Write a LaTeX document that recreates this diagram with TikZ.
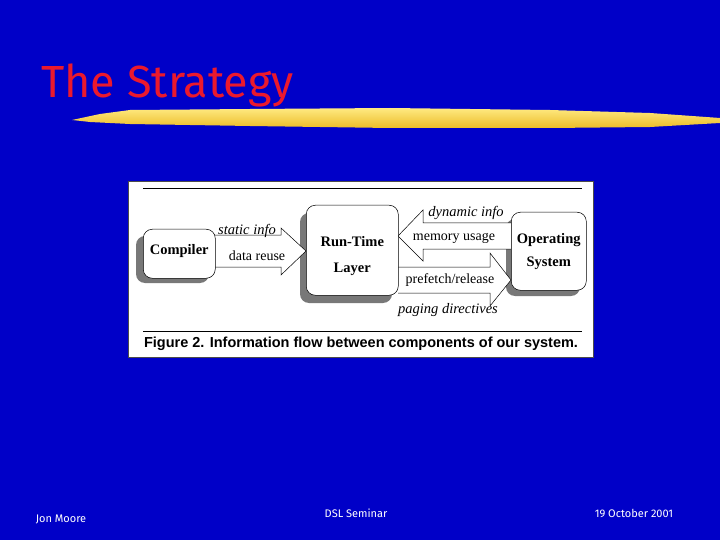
\documentclass[tikz,border=0pt]{standalone}
\usepackage{fontspec}
\setmainfont{Liberation Serif}
\newfontfamily\capfont{Liberation Sans}
\newfontfamily\slidefont{Fira Sans}
\definecolor{slideblue}{RGB}{0,0,200}
\definecolor{titlered}{RGB}{235,25,45}
\definecolor{shadowgray}{RGB}{120,120,120}
\definecolor{goldA}{RGB}{255,234,130}
\definecolor{goldB}{RGB}{236,188,40}
\tikzset{
  shadowbox/.style={fill=shadowgray, rounded corners=9pt},
  mainbox/.style={draw=black, line width=0.5pt, fill=white, rounded corners=9pt, inner sep=0pt, font=\bfseries\fontsize{14.5}{16}\selectfont, align=center},
  blockarrow/.style={draw=black, line width=0.5pt, fill=white},
  lbl/.style={font=\fontsize{14}{16}\selectfont, inner sep=0pt},
  ilbl/.style={font=\itshape\fontsize{14.5}{16}\selectfont, inner sep=0pt},
  foot/.style={text=white, font=\slidefont\fontsize{11}{13}\selectfont, inner sep=0pt}
}
\begin{document}
\begin{tikzpicture}[x=1pt,y=-1pt]
\fill[slideblue] (0,0) rectangle (720,540);
\useasboundingbox (0,0) rectangle (720,540);
% title
\node[text=titlered, font=\slidefont\fontsize{45}{50}\selectfont, anchor=base west, inner sep=0pt] (title) at (41,98) {The Strategy};
% brush stroke
\shade[top color=goldA, bottom color=goldB] (72,120) -- (100,114) -- (130,110) -- (250,109) -- (390,108) -- (550,110) -- (650,113) -- (720,118)
  -- (720,123) -- (650,127) -- (550,128) -- (390,128) -- (250,126) -- (130,124) -- (90,122) -- cycle;
% figure panel
\node[draw=black!70, fill=white, minimum width=465pt, minimum height=176pt, inner sep=0pt, anchor=north west] (panel) at (128,181) {};
\draw[line width=0.8pt] (143,188) -- (582,188);
\draw[line width=0.8pt] (143,331) -- (582,331);
\node[font=\capfont\fontsize{14.5}{16}\selectfont, inner sep=0pt] (cap) at (361,344) {\textbf{Figure 2.} \textbf{Information flow between components of our system.}};
% shadows
\fill[shadowbox] (136,236) rectangle (209,283);
\fill[shadowbox] (300,213) rectangle (392,303);
\fill[shadowbox] (506,219) rectangle (580,296);
% block arrows
\draw[blockarrow] (215,235) -- (281,235) -- (281,228) -- (306,251) -- (281,275) -- (281,267) -- (215,267);
\draw[blockarrow] (511,223) -- (423,223) -- (423,210) -- (398,236) -- (423,261) -- (423,249) -- (511,249);
\draw[blockarrow] (398,267) -- (490,267) -- (490,253) -- (511,280) -- (490,306) -- (490,293) -- (398,293);
% boxes
\node[mainbox, minimum width=72pt, minimum height=49pt, anchor=north west] (comp) at (143,229) {\raisebox{8pt}{Compiler}};
\node[mainbox, minimum width=92pt, minimum height=90pt, anchor=north west] (rt) at (306,205) {\rule{0pt}{22pt}Run-Time\\[10pt]Layer};
\node[mainbox, minimum width=75pt, minimum height=78pt, anchor=north west] (os) at (511,212) {Operating\\[7pt]System};
% labels
\node[ilbl] (l1) at (247,231) {static info};
\node[lbl] (l2) at (257,256) {data reuse};
\node[ilbl] (l3) at (466,213) {dynamic info};
\node[lbl] (l4) at (454,238) {memory usage};
\node[lbl] (l5) at (450,280) {prefetch/release};
\node[ilbl] (l6) at (448,310) {paging directives};
% footer
\node[foot] (f1) at (61,519) {Jon Moore};
\node[foot] (f2) at (356,513) {DSL Seminar};
\node[foot] (f3) at (634,513) {19 October 2001};
\end{tikzpicture}
\end{document}
